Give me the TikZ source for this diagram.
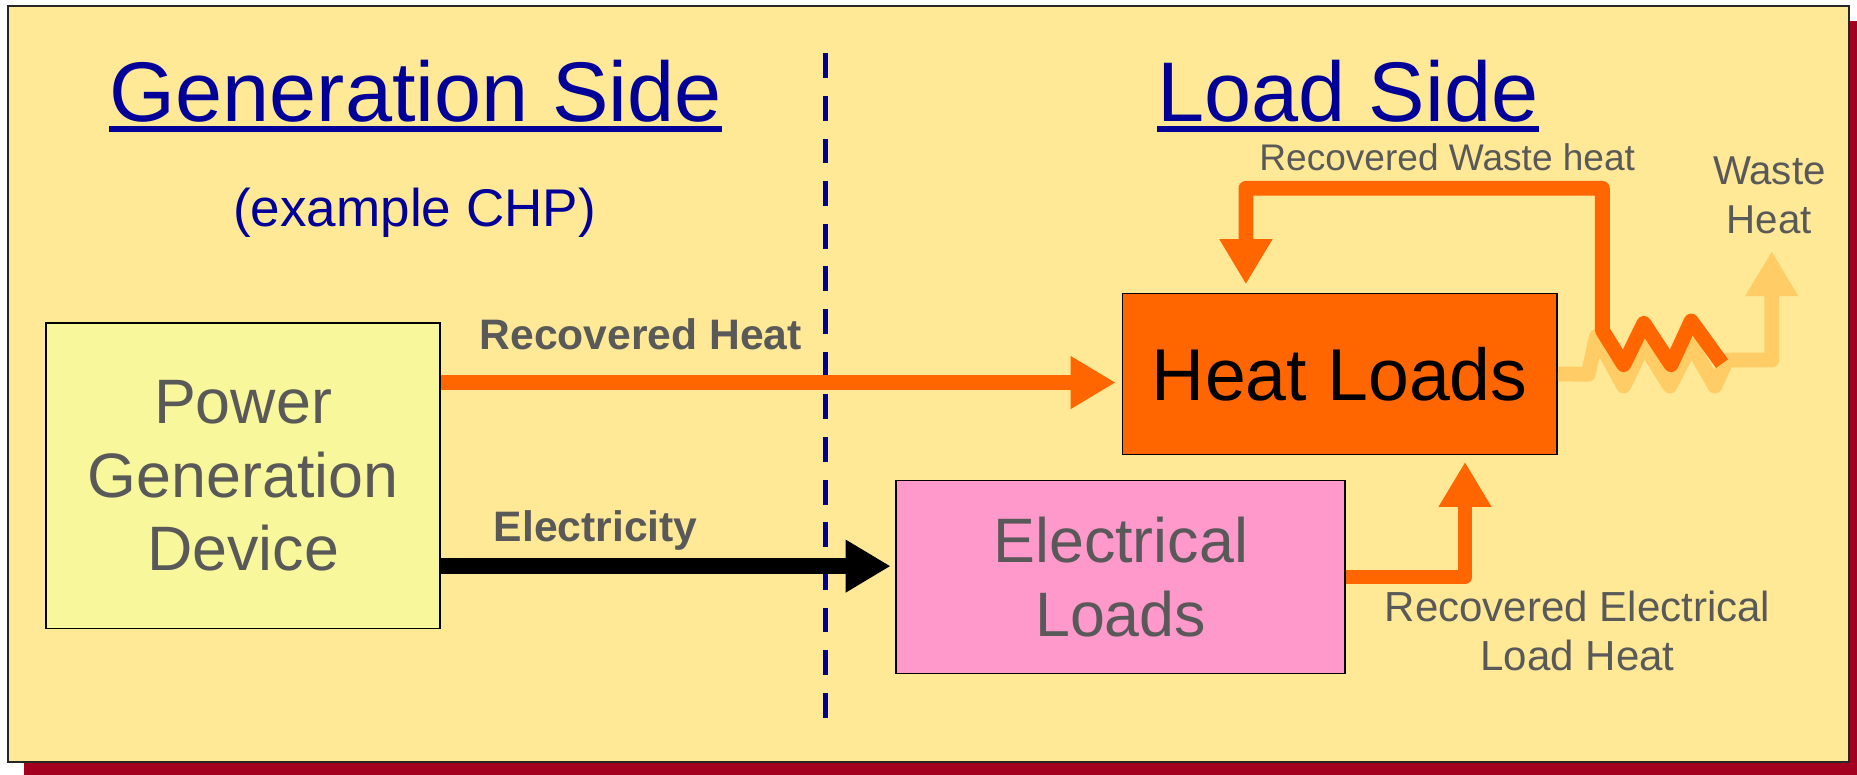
\documentclass[tikz,border=0pt]{standalone}
\usepackage{fontspec}
\setmainfont{Liberation Sans}
\usetikzlibrary{arrows.meta}
\definecolor{panel}{HTML}{FFE896}
\definecolor{shadowred}{HTML}{A3001F}
\definecolor{txtgray}{HTML}{595959}
\definecolor{heatorange}{HTML}{FF6600}
\definecolor{lightorange}{HTML}{FFCC66}
\definecolor{pgdfill}{HTML}{F9F79B}
\definecolor{pinkfill}{HTML}{FF99CC}
\definecolor{navy}{HTML}{000099}
\begin{document}
\begin{tikzpicture}[x=1pt,y=-1pt,
  box/.style={draw=black, line width=1.5pt, inner sep=0pt, anchor=north west, align=center},
  titletext/.style={text=navy, font=\fontsize{71.5}{80}\selectfont, inner sep=0pt, anchor=base},
  flow/.style={line width=12.5pt, line join=round},
  headtip/.style={-{Triangle[length=38pt,width=42pt]}},
  lbl/.style={text=txtgray, inner sep=0pt, align=center}
]
\useasboundingbox (0,0) rectangle (1568,654);
% shadow and panel
\fill[shadowred] (20,18) rectangle (1590,680);
\filldraw[fill=panel, draw=black!85, line width=1.5pt] (7,5) rectangle (1561,643.5);

% titles
\node[titletext] (gen) at (351,103) {Generation Side};
\draw[navy, line width=4.5pt] ([yshift=-6pt]gen.base west) -- ([yshift=-6pt]gen.base east);
\node[titletext] (load) at (1138,103) {Load Side};
\draw[navy, line width=4.5pt] ([yshift=-6pt]load.base west) -- ([yshift=-6pt]load.base east);
\node[text=navy, font=\fontsize{44.8}{50}\selectfont, inner sep=0pt, anchor=base] (chp) at (350,191) {(example CHP)};

% divider
\coordinate (divtop) at (697,45);
\coordinate (divbot) at (697,607);
\draw[navy, line width=4pt, dash pattern=on 21pt off 15pt] (divtop) -- (divbot);

% boxes
\node[box, fill=pgdfill, minimum width=333pt, minimum height=258pt, text=txtgray,
      font=\fontsize{53}{62}\selectfont] (pgd) at (38,272) {Power\\Generation\\Device};
\node[box, fill=heatorange, minimum width=367pt, minimum height=136pt, text=black,
      font=\fontsize{62}{70}\selectfont] (hl) at (947,247) {Heat Loads};
\node[box, fill=pinkfill, minimum width=379pt, minimum height=163pt, text=txtgray,
      font=\fontsize{53}{62}\selectfont] (el) at (756,405) {Electrical\\Loads};

% labels
\node[lbl, font=\fontsize{36}{40}\selectfont\bfseries, anchor=base] (rhl) at (541,295) {Recovered Heat};
\node[lbl, font=\fontsize{36}{40}\selectfont\bfseries, anchor=base] (elecl) at (503,457) {Electricity};
\node[lbl, font=\fontsize{31.3}{36}\selectfont, anchor=base] (rwh) at (1222,144) {Recovered Waste heat};
\node[lbl, font=\fontsize{34}{42}\selectfont] (wh) at (1494,165) {Waste\\Heat};
\node[lbl, font=\fontsize{35.5}{41}\selectfont] (reh) at (1332,533) {Recovered Electrical\\Load Heat};

% connectors
\coordinate (rhy) at (0,323);
\coordinate (ely) at (0,478);
\draw[flow, heatorange, line join=miter, headtip, shorten >=5pt] (pgd.east |- rhy) -- (hl.west |- rhy);
\draw[flow, black, line width=13.5pt, headtip, shorten >=4pt] (pgd.east |- ely) -- (el.west |- ely);

\coordinate (eltip) at (1237,390);
\draw[flow, heatorange, headtip] (el.east) -| (eltip);

% waste heat (light)
\coordinate (wastetip) at (1496,212);
\draw[flow, lightorange, headtip] (hl.east) -- (1341,316) -- (1348,284) -- (1371,326) -- (1388,291)
   -- (1410,326) -- (1428,291) -- (1448,326) -- (1458,304) -- (1496,304) -- (wastetip);

% recovered waste heat loop (dark)
\coordinate (zigend) at (1454,307);
\coordinate (looptip) at (1052,240);
\draw[flow, heatorange, headtip] (zigend) -- (1428,271) -- (1411,308) -- (1388,273) -- (1371,308)
   -- (1353,279) -- (1353,159) -- (1052,159) -- (looptip);
\end{tikzpicture}
\end{document}
